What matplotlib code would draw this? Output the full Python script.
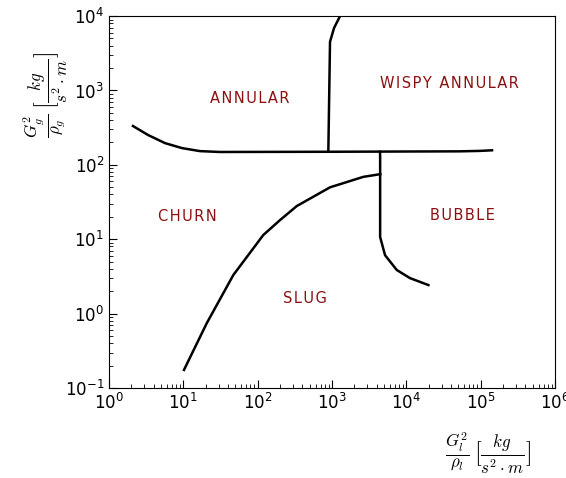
import numpy as np
import matplotlib
matplotlib.use('Agg')
import matplotlib.pyplot as plt

# annular / churn boundary (horizontal one)
top_x = [2.1, 3.35, 5.67, 9.6, 16.8, 31, 890, 52700, 96000, 142000]
top_y = [333, 252, 196, 168, 153, 149, 150, 152, 154, 157]

# annular / wispy annular
wispy_x = [892, 940, 1064, 1282]
wispy_y = [150, 4515, 6900, 10000]

# churn / slug
slug_x = [10.2, 20.6, 47, 119, 200, 335, 940, 2640, 4470]
slug_y = [0.175, 0.74, 3.3, 11.4, 18.1, 27.9, 49.9, 69, 75]

# bubble
bubble_x = [4425, 4440, 4440, 5170, 7430, 11200, 19800]
bubble_y = [150, 130, 10.7, 6.1, 3.86, 3.0, 2.42]

regions = ['ANNULAR', 'WISPY ANNULAR', 'CHURN', 'BUBBLE', 'SLUG']
region_x = [79, 37500, 11.2, 56000, 433]
region_y = [790, 1260, 20.5, 21, 1.62]

fig = plt.figure(figsize=(5.66, 4.78), dpi=100)
ax = fig.add_axes([0.1926, 0.1883, 0.788, 0.778])

for xs, ys in [(top_x, top_y), (wispy_x, wispy_y), (slug_x, slug_y), (bubble_x, bubble_y)]:
    ax.plot(xs, ys, color='black', lw=1.8)

# spaced-out capitals like the original
for name, x, y in zip(regions, region_x, region_y):
    spaced = '\u200a'.join(name)
    ax.text(x, y, spaced, color='#8b1010', fontsize=10.5, ha='center', va='center')

ax.set_xscale('log')
ax.set_yscale('log')
ax.set_xlim(1, 1e6)
ax.set_ylim(1e-1, 1e4)

ax.tick_params(which='both', direction='in', top=False, right=False, labelsize=12)
ax.tick_params(which='major', length=6)
ax.tick_params(which='minor', length=3)

ax.set_xlabel(r'$\frac{G_l^2}{\rho_l}\,[\frac{kg}{s^2\cdot m}]$', fontsize=17.5, math_fontfamily='cm')
ax.set_ylabel(r'$\frac{G_g^2}{\rho_g}\,[\frac{kg}{s^2\cdot m}]$', fontsize=17.5, math_fontfamily='cm')
ax.xaxis.set_label_coords(0.85, -0.113)
ax.yaxis.set_label_coords(-0.087, 0.788)

plt.savefig('out.png', dpi=100)
